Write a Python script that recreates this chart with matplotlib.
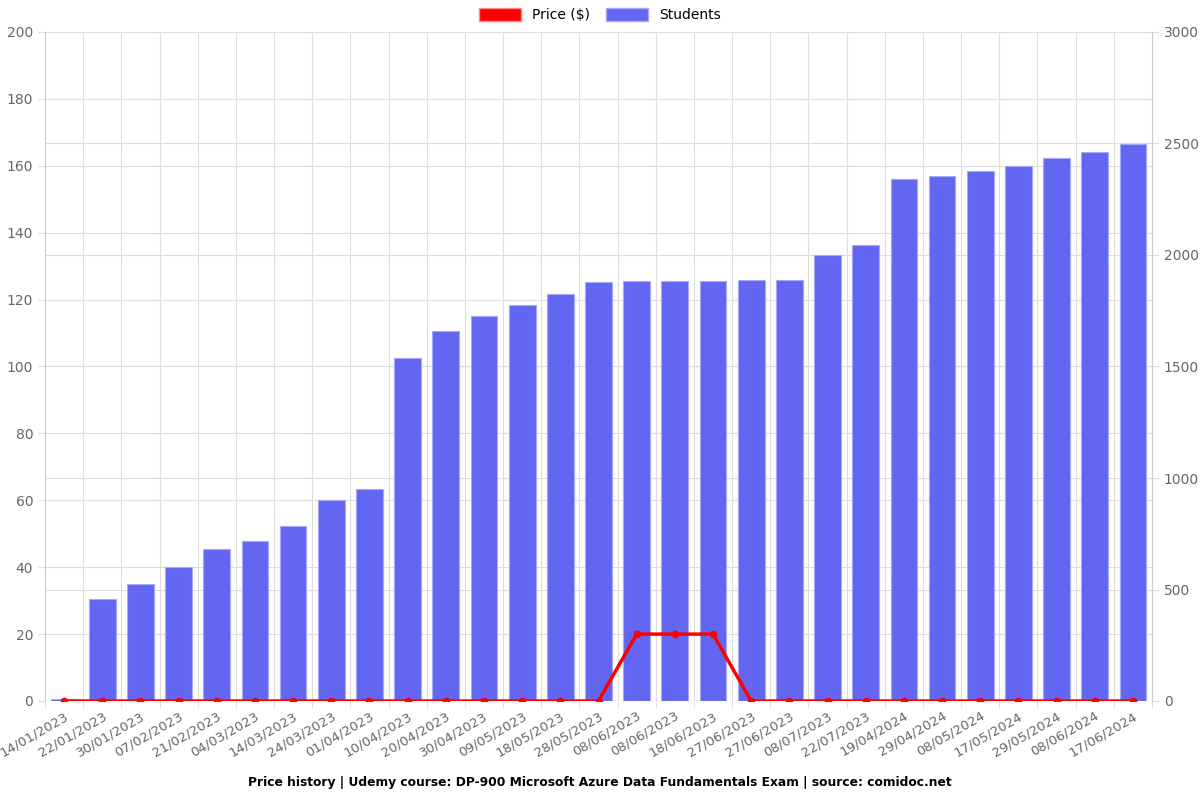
import matplotlib
matplotlib.use("Agg")
import matplotlib.pyplot as plt
from matplotlib.patches import Patch
import numpy as np

dates = ["14/01/2023", "22/01/2023", "30/01/2023", "07/02/2023", "21/02/2023",
         "04/03/2023", "14/03/2023", "24/03/2023", "01/04/2023", "10/04/2023",
         "20/04/2023", "30/04/2023", "09/05/2023", "18/05/2023", "28/05/2023",
         "08/06/2023", "08/06/2023", "18/06/2023", "27/06/2023", "27/06/2023",
         "08/07/2023", "22/07/2023", "19/04/2024", "29/04/2024", "08/05/2024",
         "17/05/2024", "29/05/2024", "08/06/2024", "17/06/2024"]
students = [10, 457, 525, 603, 682, 717, 784, 900, 951, 1537,
            1657, 1728, 1777, 1825, 1878, 1882, 1882, 1882, 1890, 1890,
            1998, 2047, 2340, 2356, 2377, 2401, 2434, 2463, 2497]
price = [0, 0, 0, 0, 0, 0, 0, 0, 0, 0,
         0, 0, 0, 0, 0, 20, 20, 20, 0, 0,
         0, 0, 0, 0, 0, 0, 0, 0, 0]

bar_col = "#6366f1"
grid_col = "#dddddd"
tick_col = "#666666"
price_max, stud_max = 200, 3000

fig = plt.figure(figsize=(12, 8), dpi=100)
ax = fig.add_axes([0.0375, 0.12375, 0.9225, 0.83625])
x = np.arange(len(dates))

ax.bar(x, students, width=0.7, color=bar_col, edgecolor="#a5a8f7", linewidth=0.8, zorder=2)
ax.set_ylim(0, stud_max)
ax.set_xlim(-0.5, len(dates) - 0.5)

ax2 = ax.twinx()
ax2.plot(x, price, color="red", linewidth=2.5, marker="o", markersize=4.5, zorder=3)
ax2.set_ylim(0, price_max)
ax2.set_yticks(np.arange(0, price_max + 1, 20))
ax2.yaxis.tick_left()
ax.yaxis.tick_right()
ax.set_yticks(np.arange(0, stud_max + 1, 500))

# grid lines for both axes and category boundaries, all behind the bars
for v in np.arange(0, price_max + 1, 20):
    ax.axhline(v * stud_max / price_max, color=grid_col, linewidth=0.8, zorder=0)
for v in np.arange(0, stud_max + 1, 500):
    ax.axhline(v, color=grid_col, linewidth=0.8, zorder=0)
for b in np.arange(0.5, len(dates) - 0.5, 1):
    ax.axvline(b, color=grid_col, linewidth=0.8, zorder=0)

ax.set_xticks(x)
ax.set_xticklabels(dates, rotation=30, ha="right", rotation_mode="anchor")
ax.set_xticks(np.arange(-0.5, len(dates), 1), minor=True)
ax.tick_params(axis="x", which="major", length=0, colors=tick_col, labelsize=9.5, pad=6)
ax.tick_params(axis="x", which="minor", length=5, color=grid_col)
for a in (ax, ax2):
    a.tick_params(axis="y", length=5, color=grid_col, labelcolor=tick_col, labelsize=10)
    for s in a.spines.values():
        s.set_visible(False)
ax2.spines["left"].set_visible(True)
ax2.spines["left"].set_color("#cccccc")
ax2.spines["right"].set_visible(True)
ax2.spines["right"].set_color("#cccccc")

handles = [Patch(facecolor="red", edgecolor="#ff8888", label="Price ($)"),
           Patch(facecolor=bar_col, edgecolor="#a5a8f7", label="Students")]
fig.legend(handles=handles, loc="upper center", bbox_to_anchor=(0.5, 1.006), ncol=2,
           frameon=False, fontsize=10, handlelength=3.0, handleheight=1.1,
           columnspacing=1.2)

fig.text(0.5, 0.022, "Price history | Udemy course: DP-900 Microsoft Azure Data Fundamentals Exam | source: comidoc.net",
         ha="center", va="center", fontsize=8.8, fontweight="bold")

fig.savefig("out.png", dpi=100)
